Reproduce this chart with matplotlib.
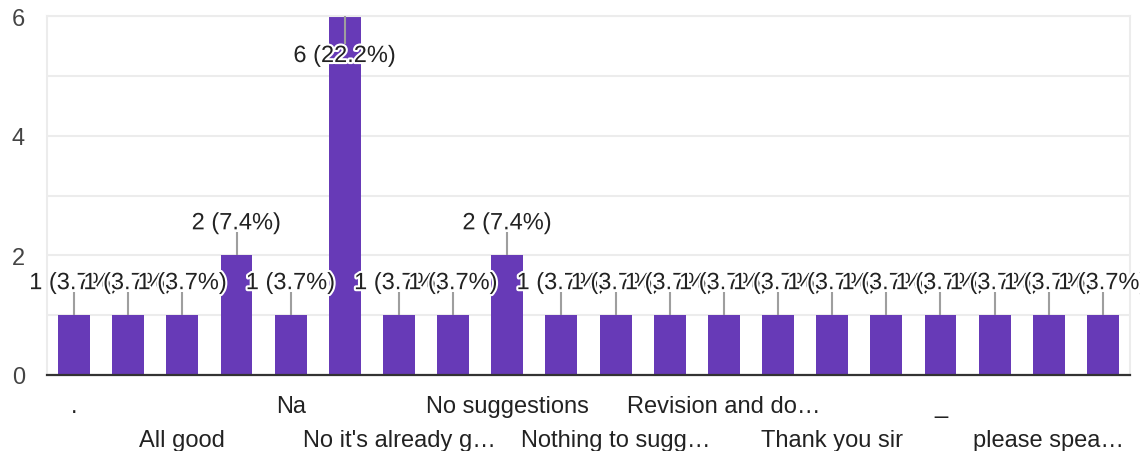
import matplotlib
matplotlib.use("Agg")
import matplotlib.pyplot as plt
import matplotlib.patheffects as pe

plt.rcParams['font.family'] = ['Liberation Sans', 'DejaVu Sans']

categories = [".", "", "All good", "", "Na", "", "No it's already g\u2026", "",
              "No suggestions", "", "Nothing to sugg\u2026", "", "Revision and do\u2026", "",
              "Thank you sir", "", "_", "", "please spea\u2026", ""]
counts = [1, 1, 1, 2, 1, 6, 1, 1, 2, 1, 1, 1, 1, 1, 1, 1, 1, 1, 1, 1]
y_ticks = [0, 2, 4, 6]

total = sum(counts)
bar_color = "#673ab7"
grid_color = "#ececec"
text_color = "#222222"
FS = 17

fig = plt.figure(figsize=(11.4, 4.52), dpi=100)
ax = fig.add_axes([47 / 1140, 1 - 376 / 452, (1130 - 47) / 1140, (376 - 17) / 452])

x = list(range(len(counts)))
ax.bar(x, counts, width=0.59, color=bar_color, zorder=2)
ax.set_xlim(-0.5, len(counts) - 0.5)
ax.set_ylim(0, 6)

for v in range(1, 7):
    ax.axhline(v, color=grid_color, lw=1.5, zorder=1)

for s in ["left", "right", "top"]:
    ax.spines[s].set_color(grid_color)
    ax.spines[s].set_linewidth(1.5)
ax.spines["bottom"].set_color("#333333")
ax.spines["bottom"].set_linewidth(1.6)
ax.spines["bottom"].set_zorder(4)

ax.set_yticks(y_ticks)
ax.set_yticklabels([str(t) for t in y_ticks], fontsize=FS, color="#444444")
ax.tick_params(axis="y", length=0, pad=16)
ax.set_xticks([])

px = 1 / 59.8  # data units per pixel in y
halo = [pe.withStroke(linewidth=3, foreground="white")]
for i, c in enumerate(counts):
    label = f"{c} ({c / total * 100:.1f}%)"
    if c >= 6:
        ly = c - 28 * px
        ty = c - 46 * px
    else:
        ly = c + 23 * px
        ty = c + 26 * px
    ax.plot([i, i], [c, ly], color="#9e9e9e", lw=1.5, zorder=3, solid_capstyle="butt")
    ax.text(i, ty, label, ha="center", va="baseline", fontsize=FS, color=text_color,
            path_effects=halo, zorder=5)

for i, name in enumerate(categories):
    if i % 2 != 0 or not name:
        continue
    row = (i // 2) % 2
    off = -37 if row == 0 else -71
    ax.annotate(name, xy=(i, 0), xycoords=("data", "axes fraction"),
                xytext=(0, off / 1.389), textcoords="offset points",
                ha="center", va="baseline", fontsize=FS, color=text_color,
                annotation_clip=False)

fig.savefig("out.png", dpi=100)
